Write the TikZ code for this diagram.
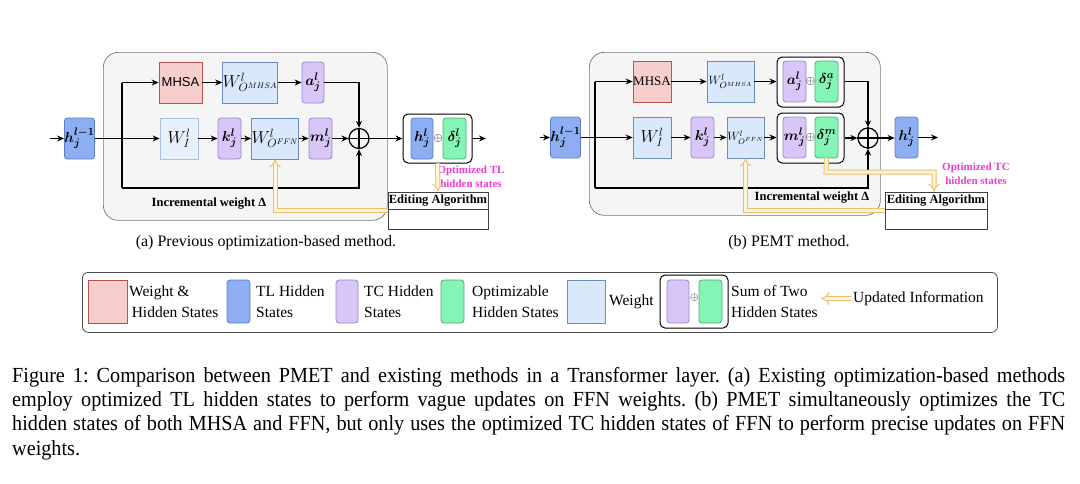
\documentclass[tikz,border=0pt]{standalone}
\usepackage{fontspec}
\setmainfont{Liberation Serif}
\newfontfamily\sansf{Liberation Sans}
\newfontfamily\capfont[FakeStretch=0.94]{Liberation Serif}
\usepackage{bm}
\usetikzlibrary{arrows.meta,calc}
\definecolor{pinkF}{HTML}{F8CECC}\definecolor{pinkD}{HTML}{B85450}
\definecolor{wF}{HTML}{DAE8FC}\definecolor{wD}{HTML}{6C8EBF}
\definecolor{wlF}{HTML}{E8F0FC}\definecolor{wlD}{HTML}{A9BFE0}
\definecolor{blF}{HTML}{8DAEF2}\definecolor{blD}{HTML}{5A7FC6}
\definecolor{puF}{HTML}{D8C6F8}\definecolor{puD}{HTML}{9A86C8}
\definecolor{grF}{HTML}{85F5B5}\definecolor{grD}{HTML}{4FA878}
\definecolor{panF}{HTML}{F5F5F5}\definecolor{panD}{HTML}{777777}
\definecolor{orD}{HTML}{EDBF72}\definecolor{orF}{HTML}{FFF5DA}
\definecolor{mag}{HTML}{F03CD0}
\begin{document}
\begin{tikzpicture}[x=1pt,y=-1pt,
  box/.style={draw, inner sep=0pt, line width=0.8pt, anchor=center},
  wbox/.style={box, fill=wF, draw=wD},
  wlbox/.style={box, fill=wlF, draw=wlD},
  pbox/.style={box, fill=pinkF, draw=pinkD},
  blbox/.style={box, fill=blF, draw=blD, rounded corners=3pt},
  pubox/.style={box, fill=puF, draw=puD, rounded corners=3pt},
  grbox/.style={box, fill=grF, draw=grD, rounded corners=3pt},
  grp/.style={box, fill=white, draw=black, line width=1pt, rounded corners=5pt},
  panel/.style={draw=panD, fill=panF, line width=0.7pt, rounded corners=15pt},
  edbox/.style={box, draw=black!75, fill=white, line width=0.7pt},
  mf/.style={font=\fontsize{15}{18}\selectfont},
  wf/.style={font=\fontsize{17}{20}\selectfont},
  wfs/.style={font=\fontsize{13}{16}\selectfont},
  arr/.style={line width=1.1pt, -{Stealth[length=7pt,width=6pt]}},
  ln/.style={line width=1.1pt},
  upd/.style={line width=1pt, draw=orD, double=orF, double distance=3pt, -{Implies}},
  magt/.style={text=mag, font=\bfseries\fontsize{11}{13.5}\selectfont, align=center, inner sep=0pt},
  boldt/.style={font=\bfseries\fontsize{12.5}{14}\selectfont, inner sep=0pt},
  legt/.style={font=\fontsize{15.5}{21}\selectfont, align=left, anchor=west, inner sep=0pt},
  capt/.style={font=\fontsize{16}{18}\selectfont, inner sep=0pt}
]
\useasboundingbox (0,0) rectangle (1080,483);
% ---------- panel (a)
\node[panel, minimum width=284pt, minimum height=168pt, anchor=north west, inner sep=0pt] (panA) at (103,52) {};
\node[blbox, minimum width=27pt, minimum height=41pt, mf] (hA0) at (79.5,138.5) {$\bm{h_j^{l-1}}$};
\node[pbox, minimum width=43pt, minimum height=41pt, font=\sansf\fontsize{13}{15}\selectfont] (mhA) at (180.5,82.5) {MHSA};
\node[wbox, minimum width=54pt, minimum height=41pt, wf] (woA) at (250,82.5) {$W^{l}_{O^{MHSA}}$};
\node[pubox, minimum width=22pt, minimum height=41pt, mf] (aA) at (313,82.5) {$\bm{a_j^l}$};
\node[wlbox, minimum width=38pt, minimum height=41pt, wf] (wiA) at (179,138.5) {$W^{l}_{I}$};
\node[pubox, minimum width=23pt, minimum height=41pt, mf] (kA) at (229.5,138.5) {$\bm{k_j^l}$};
\node[wbox, minimum width=42pt, minimum height=41pt, wf] (wfA) at (275,138.5) {$W^{l}_{O^{FFN}}$};
\node[pubox, minimum width=23pt, minimum height=41pt, mf] (mA) at (320.5,138.5) {$\bm{m_j^l}$};
\node[circle, draw, line width=1.2pt, minimum size=20pt, inner sep=0pt] (plA) at (359,138.5) {};
\draw[line width=1.2pt] (plA.north)--(plA.south) (plA.west)--(plA.east);
\node[grp, minimum width=69pt, minimum height=49pt] (gA) at (437.5,138.5) {};
\node[blbox, minimum width=22pt, minimum height=41pt, mf] (hA) at (422,138.5) {$\bm{h_j^l}$};
\node[grbox, minimum width=23pt, minimum height=41pt, mf] (dA) at (454.5,138.5) {$\bm{\delta_j^l}$};
\node[font=\fontsize{13}{15}\selectfont, inner sep=0pt] (opA) at ($(hA.east)!0.5!(dA.west)$) {$\oplus$};
\node[edbox, minimum width=100pt, minimum height=17pt, boldt] (edA) at (438,200.5) {Editing Algorithm};
\node[edbox, minimum width=100pt, minimum height=20pt] (edA2) at (438,219) {};
\node[boldt] (incA) at (209,204) {Incremental weight Δ};
\node[magt, anchor=north] (otA) at (471,166) {Optimized TL\\hidden states};
\coordinate (inA) at (50,138.5);
\coordinate (outA) at (486,138.5);
\coordinate (tA) at (122,82.5);
\coordinate (bA) at (122,188);
\draw[arr] (inA) -- (hA0);
\draw[arr] (hA0) -- (wiA);
\draw[ln] (tA) -- (bA);
\draw[arr] (tA) -- (mhA);
\draw[arr] (mhA) -- (woA);
\draw[arr] (woA) -- (aA);
\draw[arr] (aA.east) -| (plA.north);
\draw[arr] (wiA) -- (kA);
\draw[arr] (kA) -- (wfA);
\draw[arr] (wfA) -- (mA);
\draw[arr] (mA) -- (plA);
\draw[arr] (bA) -| (plA.south);
\draw[arr] (plA) -- (gA);
\draw[arr] (gA) -- (outA);
\draw[upd] (gA.south) -- (edA.north);
\draw[upd] ($(edA2.north west)+(0,2)$) -| (wfA.south);
% ---------- panel (b)
\node[panel, minimum width=291pt, minimum height=163pt, anchor=north west, inner sep=0pt] (panB) at (589,52) {};
\node[blbox, minimum width=23pt, minimum height=41pt, mf] (hB0) at (565.5,137.5) {$\bm{h_j^{l-1}}$};
\node[pbox, minimum width=38pt, minimum height=41pt, font=\fontsize{13}{15}\selectfont] (mhB) at (652,81.5) {MHSA};
\node[wbox, minimum width=47pt, minimum height=41pt, wfs] (woB) at (730.5,81.5) {$W^{l}_{O^{MHSA}}$};
\node[grp, minimum width=67pt, minimum height=50pt] (gaB) at (810.5,82) {};
\node[pubox, minimum width=23pt, minimum height=41pt, mf] (aB) at (794.5,81.5) {$\bm{a_j^l}$};
\node[grbox, minimum width=23pt, minimum height=41pt, mf] (daB) at (826.5,81.5) {$\bm{\delta_j^a}$};
\node[font=\fontsize{13}{15}\selectfont, inner sep=0pt] (opB1) at ($(aB.east)!0.5!(daB.west)$) {$\oplus$};
\node[wbox, minimum width=38pt, minimum height=41pt, wf] (wiB) at (652,137.5) {$W^{l}_{I}$};
\node[pubox, minimum width=23pt, minimum height=41pt, mf] (kB) at (702.5,137.5) {$\bm{k_j^l}$};
\node[wbox, minimum width=37pt, minimum height=41pt, font=\fontsize{11.5}{14}\selectfont] (wfB) at (745.5,137.5) {$W^{l}_{O^{FFN}}$};
\node[grp, minimum width=67pt, minimum height=50pt] (gmB) at (810.5,138) {};
\node[pubox, minimum width=23pt, minimum height=41pt, mf] (mB) at (794.5,137.5) {$\bm{m_j^l}$};
\node[grbox, minimum width=23pt, minimum height=41pt, mf] (dmB) at (826.5,137.5) {$\bm{\delta_j^m}$};
\node[font=\fontsize{13}{15}\selectfont, inner sep=0pt] (opB2) at ($(mB.east)!0.5!(dmB.west)$) {$\oplus$};
\node[circle, draw, line width=1.2pt, minimum size=20pt, inner sep=0pt] (plB) at (868,138) {};
\draw[line width=1.2pt] (plB.north)--(plB.south) (plB.west)--(plB.east);
\node[blbox, minimum width=23pt, minimum height=41pt, mf] (hB) at (906.5,137.5) {$\bm{h_j^l}$};
\node[edbox, minimum width=102pt, minimum height=17pt, boldt] (edB) at (936,200.5) {Editing Algorithm};
\node[edbox, minimum width=102pt, minimum height=20pt] (edB2) at (936,219) {};
\node[boldt] (incB) at (812,198) {Incremental weight Δ};
\node[magt, anchor=north] (otB) at (976,163) {Optimized TC\\hidden states};
\coordinate (inB) at (540,137.5);
\coordinate (outB) at (938,137.5);
\coordinate (tB) at (595,81.5);
\coordinate (bB) at (595,188);
\coordinate (kn1) at (826,172);
\coordinate (kn2) at (934,172);
\draw[arr] (inB) -- (hB0);
\draw[arr] (hB0) -- (wiB);
\draw[ln] (tB) -- (bB);
\draw[arr] (tB) -- (mhB);
\draw[arr] (mhB) -- (woB);
\draw[arr] (woB) -- (gaB.west |- woB);
\draw[arr] (gaB.east |- woB) -| (plB.north);
\draw[arr] (wiB) -- (kB);
\draw[arr] (kB) -- (wfB);
\draw[arr] (wfB) -- (gmB.west |- wfB);
\draw[arr] (gmB.east |- plB) -- (plB);
\draw[arr] (bB) -| (plB.south);
\draw[arr] (plB) -- (hB.west |- plB);
\draw[arr] (hB) -- (outB);
\draw[upd] (dmB.south) -- (kn1) -- (kn2) -- (edB.north -| kn2);
\draw[upd] ($(edB2.north west)+(0,2)$) -| (wfB.south);
% ---------- sub-captions
\node[capt] (capA) at (266,243) {(a) Previous optimization-based method.};
\node[capt] (capB) at (789,243) {(b) PEMT method.};
% ---------- legend
\node[draw=black!70, line width=0.8pt, rounded corners=6pt, minimum width=915pt, minimum height=60pt, anchor=north west, inner sep=0pt] (leg) at (82,272) {};
\node[pbox, minimum width=39pt, minimum height=43pt] (l1) at (107.5,301.5) {};
\node[legt] (l1t) at (129,301.5) {Weight \&\\\,Hidden States};
\node[blbox, minimum width=23pt, minimum height=43pt] (l2) at (238.5,301.5) {};
\node[legt] (l2t) at (256,301.5) {TL Hidden\\States};
\node[pubox, minimum width=22pt, minimum height=43pt] (l3) at (347,301.5) {};
\node[legt] (l3t) at (364,301.5) {TC Hidden\\States};
\node[grbox, minimum width=23pt, minimum height=43pt] (l4) at (452.5,301.5) {};
\node[legt] (l4t) at (472,301.5) {Optimizable\\Hidden States};
\node[wbox, minimum width=38pt, minimum height=43pt] (l5) at (586,301.5) {};
\node[legt] (l5t) at (609,301.5) {Weight};
\node[grp, minimum width=68pt, minimum height=53pt] (l6) at (694,301.5) {};
\node[pubox, minimum width=22pt, minimum height=43pt] (l6a) at (678,301.5) {};
\node[grbox, minimum width=23pt, minimum height=43pt] (l6b) at (710.5,301.5) {};
\node[font=\fontsize{11}{13}\selectfont, inner sep=0pt] (l6o) at (694.5,298) {$\oplus$};
\node[legt] (l6t) at (731,301.5) {Sum of Two\\Hidden States};
\node[legt] (l7t) at (853,298.5) {Updated Information};
\coordinate (l7a) at (851,298.5);
\coordinate (l7b) at (821,298.5);
\draw[upd, double distance=3.5pt] (l7a) -- (l7b);
% ---------- caption
\node[anchor=north west, text width=1053pt, align=justify, inner sep=0pt, font=\capfont\fontsize{21.5}{24.3}\selectfont] (cap) at (12,367) {\frenchspacing\hyphenpenalty=10000 Figure 1: Comparison between PMET and existing methods in a Transformer layer. (a) Existing optimization-based methods\linebreak employ optimized TL hidden states to perform vague updates on FFN weights. (b) PMET simultaneously optimizes the TC\linebreak hidden states of both MHSA and FFN, but only uses the optimized TC hidden states of FFN to perform precise updates on FFN\linebreak weights.};
\end{tikzpicture}
\end{document}
